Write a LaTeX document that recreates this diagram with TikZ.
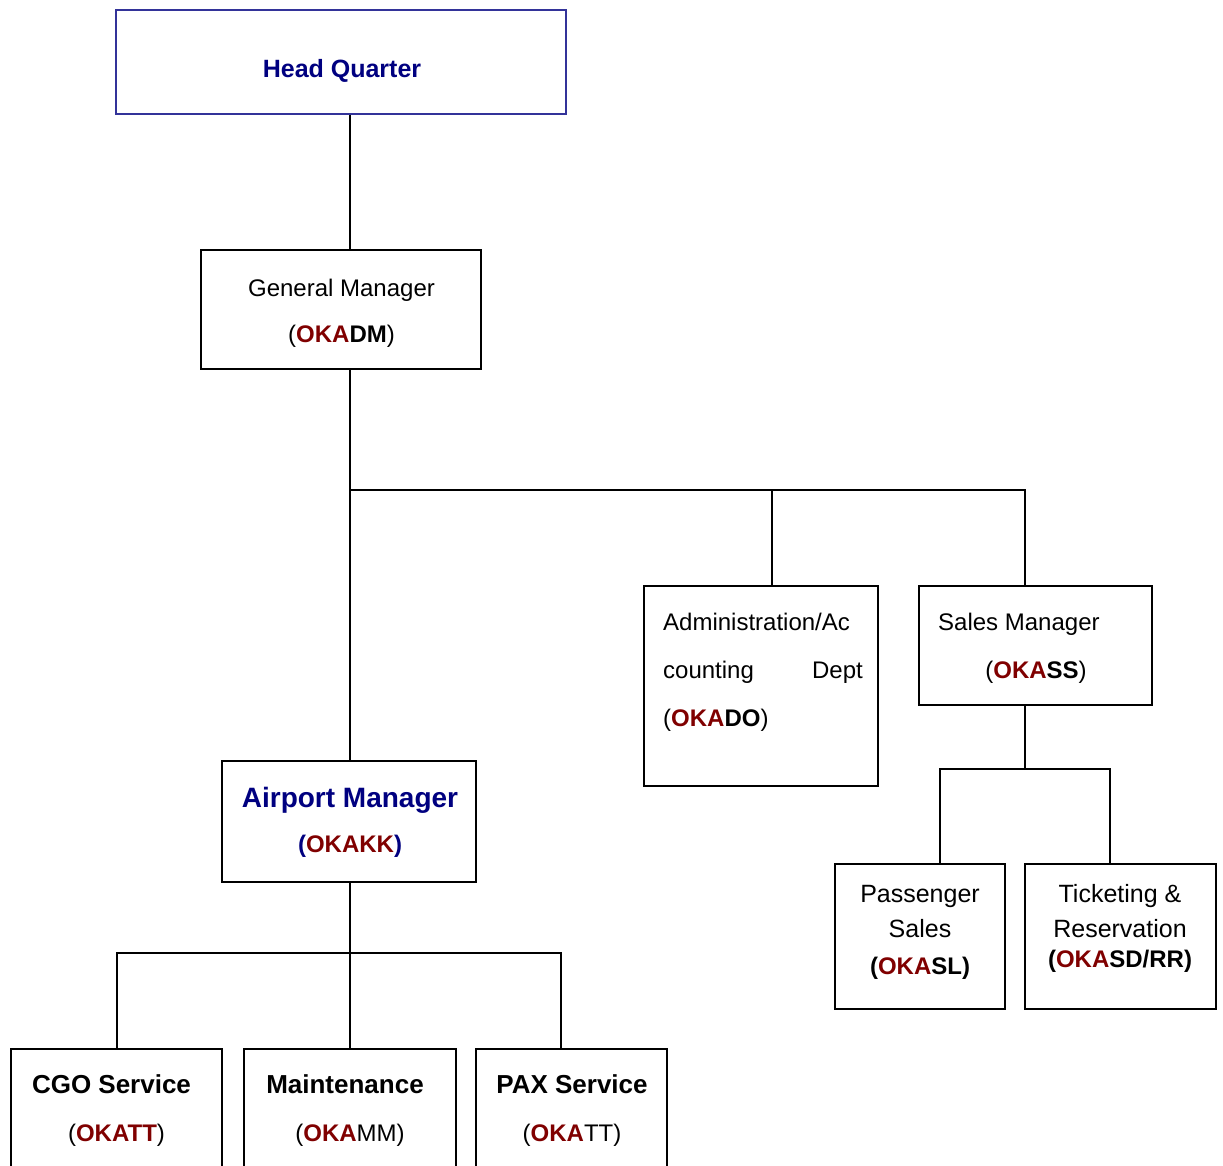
\documentclass[tikz,border=0pt]{standalone}
\usepackage{fontspec}
\setmainfont{Liberation Sans}
\definecolor{hqblue}{HTML}{333399}
\definecolor{navy}{HTML}{000080}
\definecolor{okared}{HTML}{800000}
\newcommand{\oka}{\textcolor{okared}{\bfseries OKA}}
\begin{document}
\begin{tikzpicture}[x=1pt,y=-1pt,
  box/.style={draw=black, line width=2pt, rectangle, inner sep=0pt},
  hqbox/.style={box, draw=hqblue},
  link/.style={draw=black, line width=2pt},
  txt/.style={anchor=base, inner sep=0pt, font=\fontsize{24}{28}\selectfont},
  btxt/.style={txt, font=\fontsize{26}{28}\selectfont\bfseries}
]
\clip (0,0) rectangle (1223,1166);
\useasboundingbox (0,0) rectangle (1223,1166);
\fill[white] (0,0) rectangle (1223,1166);

% boxes
\node[hqbox, minimum width=450pt, minimum height=104pt] (hq) at (341,62) {};
\node[box, minimum width=280pt, minimum height=119pt] (gm) at (341,309.5) {};
\node[box, minimum width=234pt, minimum height=200pt] (adm) at (761,686) {};
\node[box, minimum width=233pt, minimum height=119pt] (sm) at (1035.5,645.5) {};
\node[box, minimum width=254pt, minimum height=121pt] (am) at (349,821.5) {};
\node[box, minimum width=170pt, minimum height=145pt] (ps) at (920,936.5) {};
\node[box, minimum width=191pt, minimum height=145pt] (tr) at (1120.5,936.5) {};
\node[box, minimum width=211pt, minimum height=141pt] (cgo) at (116.5,1119.5) {};
\node[box, minimum width=212pt, minimum height=141pt] (mnt) at (350,1119.5) {};
\node[box, minimum width=191pt, minimum height=141pt] (pax) at (571.5,1119.5) {};

% junctions
\coordinate (j1) at (350,490);
\coordinate (j2) at (1025,769);
\coordinate (j3) at (350,953);

% connectors
\draw[link] ([xshift=9pt]hq.south) -- ([xshift=9pt]gm.north);
\draw[link] ([xshift=9pt]gm.south) -- (am.north -| j1);
\draw[link] (j1) -| ([xshift=11pt]adm.north);
\draw[link] (j1) -| ([xshift=-10.5pt]sm.north);
\draw[link] ([xshift=-10.5pt]sm.south) -- (j2);
\draw[link] (j2) -| ([xshift=20pt]ps.north);
\draw[link] (j2) -| ([xshift=-10.5pt]tr.north);
\draw[link] ([xshift=1pt]am.south) -- (j3);
\draw[link] (j3) -| (cgo.north);
\draw[link] (j3) -- (mnt.north);
\draw[link] (j3) -| ([xshift=-10.5pt]pax.north);

% texts
\node[txt, text=navy, font=\fontsize{25}{28}\selectfont\bfseries] (thq) at (342,78) {Head Quarter};
\node[txt] (tgm1) at (341.5,296) {General Manager};
\node[txt] (tgm2) at (341.5,342) {(\oka\textbf{DM})};
\node[txt, anchor=base west] (tad1) at (663,630) {Administration/Ac};
\node[txt, anchor=base west] (tad2) at (663,678) {counting};
\node[txt, anchor=base east] (tad3) at (863,678) {Dept};
\node[txt, anchor=base west] (tad4) at (663,726) {(\oka\textbf{DO})};
\node[txt, anchor=base west] (tsm1) at (938,630) {Sales Manager};
\node[txt] (tsm2) at (1036,678) {(\oka\textbf{SS})};
\node[txt, text=navy, font=\fontsize{28}{32}\selectfont\bfseries] (tam1) at (350,807) {Airport Manager};
\node[txt, text=navy, font=\fontsize{24}{28}\selectfont\bfseries] (tam2) at (350,852) {(\textcolor{okared}{OKAKK})};
\node[txt, font=\fontsize{25}{28}\selectfont] (tps1) at (920,902) {Passenger};
\node[txt, font=\fontsize{25}{28}\selectfont] (tps2) at (920,937) {Sales};
\node[txt] (tps3) at (920,974) {\bfseries(\oka SL)};
\node[txt, font=\fontsize{25}{28}\selectfont] (ttr1) at (1120,902) {Ticketing \&};
\node[txt, font=\fontsize{25}{28}\selectfont] (ttr2) at (1120,937) {Reservation};
\node[txt] (ttr3) at (1120,967) {\bfseries(\oka SD/RR)};
\node[btxt] (tcg1) at (111.5,1093) {CGO Service};
\node[txt] (tcg2) at (116.5,1141) {(\textcolor{okared}{\bfseries OKATT})};
\node[btxt] (tmn1) at (345,1093) {Maintenance};
\node[txt] (tmn2) at (350,1141) {(\oka MM)};
\node[btxt] (tpx1) at (572,1093) {PAX Service};
\node[txt] (tpx2) at (572,1141) {(\oka TT)};
\end{tikzpicture}
\end{document}
